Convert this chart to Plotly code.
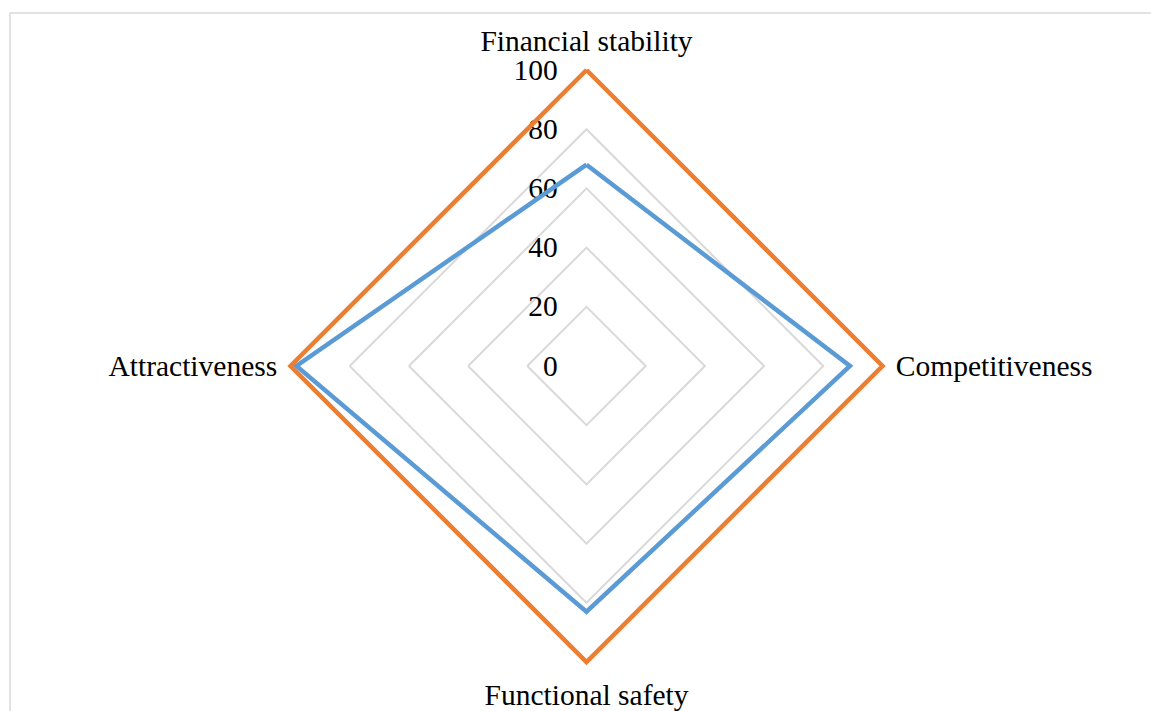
import plotly.graph_objects as go

categories = ["Financial stability", "Competitiveness", "Functional safety", "Attractiveness"]
series_blue = [68, 89, 83, 98]
series_orange = [100, 100, 100, 100]
radial_ticks = [0, 20, 40, 60, 80, 100]
radial_labels = ["0", "20", "40", "60", "80", "100"]

W, H = 1151, 711
cx, cy, R100 = 586.5, 366.0, 296.0
RMIN, RMAX = 0, 102
R = R100 * (RMAX - RMIN) / 100

font = dict(family="Liberation Serif, Times New Roman, serif", size=29.5, color="#000000")

fig = go.Figure()
for vals, color, name in [(series_blue, "#5B9BD5", "Series 1"), (series_orange, "#ED7D31", "Series 2")]:
    fig.add_trace(go.Scatterpolar(
        r=vals + vals[:1], theta=categories + categories[:1], mode="lines",
        line=dict(color=color, width=4.5), name=name, showlegend=False,
    ))

fig.update_layout(
    width=W, height=H, margin=dict(l=0, r=0, t=0, b=0),
    paper_bgcolor="white", font=font, showlegend=False,
    polar=dict(
        domain=dict(x=[(cx - R) / W, (cx + R) / W], y=[1 - (cy + R) / H, 1 - (cy - R) / H]),
        gridshape="linear", bgcolor="white",
        radialaxis=dict(range=[RMIN, RMAX], tickvals=radial_ticks, ticktext=radial_labels,
                        showticklabels=True, tickangle=90, side="counterclockwise",
                        angle=90, showline=False, ticks="outside", ticklen=18,
                        tickcolor="rgba(0,0,0,0)", tickfont=font,
                        gridcolor="#d9d9d9", gridwidth=1.5, layer="below traces"),
        angularaxis=dict(direction="clockwise", rotation=90, showgrid=False, showline=False,
                         ticks="outside", ticklen=1,
                         tickcolor="rgba(0,0,0,0)", tickfont=font, layer="below traces"),
    ),
    shapes=[dict(type="rect", xref="paper", yref="paper", x0=10 / W, x1=1.05, y0=-0.05, y1=1 - 13 / H,
                 line=dict(color="#d9d9d9", width=1.5), fillcolor="rgba(0,0,0,0)", layer="below")],
)
fig.write_html("out.html")
